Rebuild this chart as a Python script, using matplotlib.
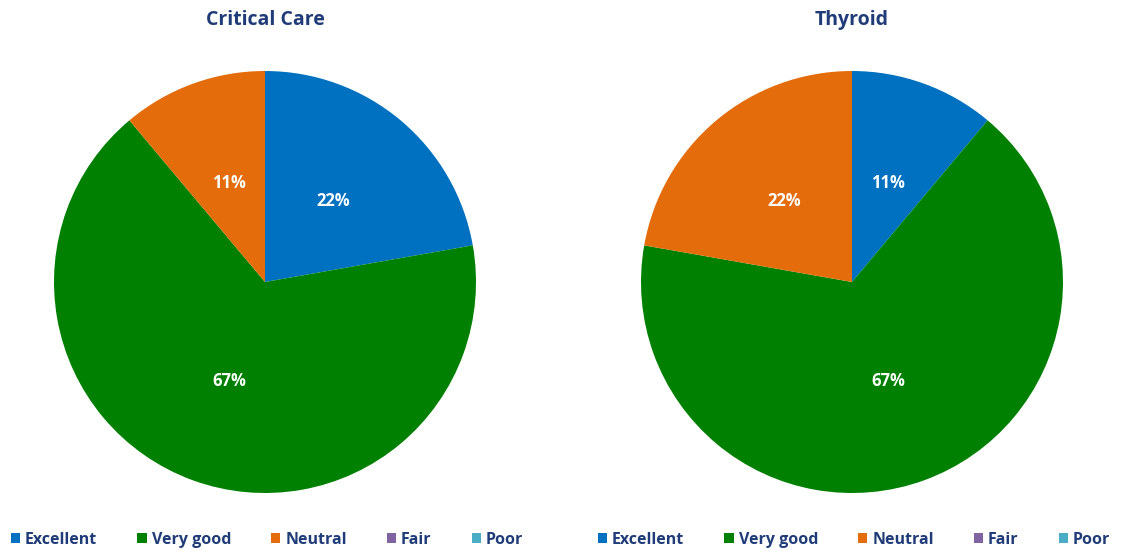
import matplotlib.pyplot as plt
from matplotlib.patches import Patch

categories = ["Excellent", "Very good", "Neutral", "Fair", "Poor"]
colors = ["#0070C0", "#008000", "#E46C0A", "#8064A2", "#4BACC6"]

titles = ["Critical Care", "Thyroid"]
critical_care = [2, 6, 1, 0, 0]
thyroid = [1, 6, 2, 0, 0]

text_color = "#1F3B78"
plt.rcParams["font.family"] = ["Open Sans", "DejaVu Sans"]

W, H = 1121, 554
fig = plt.figure(figsize=(W / 100, H / 100), dpi=100)

centers = [(265, 282), (852, 282)]
radius = 211


def pct_label(p):
    return f"{p:.0f}%" if p > 0 else ""


for (cx, cy), title, values in zip(centers, titles, [critical_care, thyroid]):
    ax = fig.add_axes([(cx - radius) / W, (H - cy - radius) / H,
                       2 * radius / W, 2 * radius / H])
    ax.pie(values, colors=colors, startangle=90, counterclock=False,
           autopct=pct_label, pctdistance=0.5,
           wedgeprops=dict(linewidth=0),
           textprops=dict(color="white", fontsize=12, fontweight="bold"))
    ax.set_xlim(-1, 1)
    ax.set_ylim(-1, 1)
    ax.set_aspect("equal")
    fig.text(cx / W, 1 - 20 / H, title, ha="center", va="center",
             fontsize=14, fontweight="bold", color=text_color)

    handles = [Patch(facecolor=c, edgecolor="none") for c in colors]
    fig.legend(handles, categories, loc="center",
               bbox_to_anchor=((cx + 2) / W, 1 - 540 / H), ncol=5,
               frameon=False, handlelength=0.6, handleheight=0.6,
               handletextpad=0.3, columnspacing=2.5,
               prop=dict(size=11.5, weight="bold"), labelcolor=text_color)

fig.savefig("out.png", dpi=100)
